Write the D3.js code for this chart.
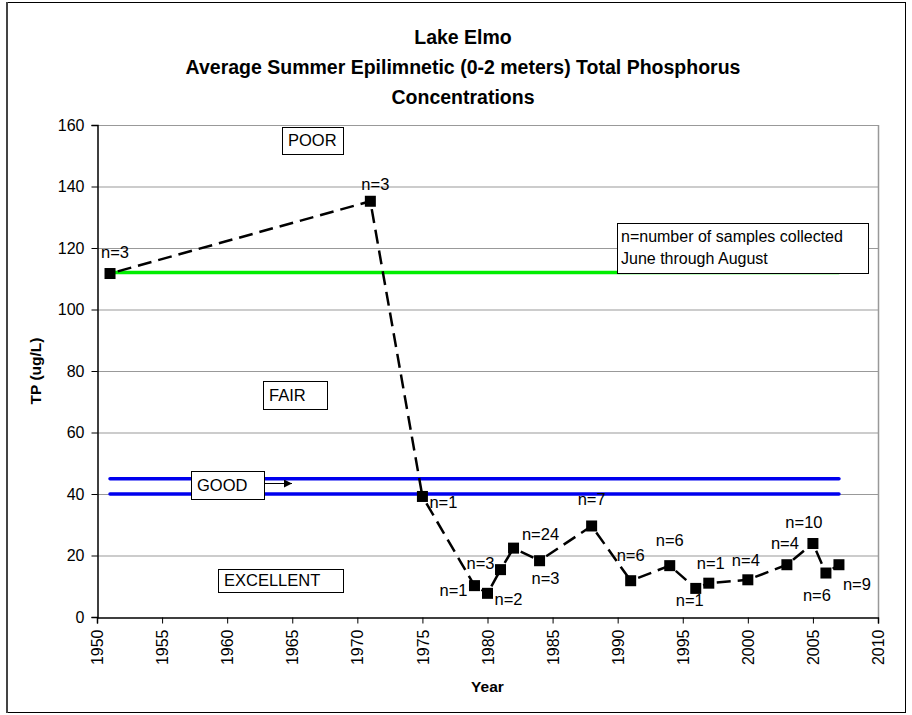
<!DOCTYPE html>
<html><head><meta charset="utf-8">
<script src="https://cdn.jsdelivr.net/npm/d3@7"></script>
<style>body{margin:0;background:#fff}svg{display:block;font-family:Arial,"Liberation Sans",sans-serif}</style>
</head><body>
<svg id="c" width="912" height="715"></svg>
<script>
// ---- data ----
const years  = [1951, 1971, 1975, 1979, 1980, 1981, 1982, 1984, 1988, 1991, 1994, 1996, 1997, 2000, 2003, 2005, 2006, 2007];
const tpValues = [111.7, 135.2, 39.2, 10.2, 7.7, 15.4, 22.4, 18.3, 29.6, 11.8, 16.7, 9.3, 11.0, 12.1, 17.0, 23.9, 14.3, 17.0];
const sampleLabels = ["n=3","n=3","n=1","n=1","n=2","n=3","n=24","n=3","n=7","n=6","n=6","n=1","n=1","n=4","n=4","n=10","n=6","n=9"];
const greenLimit = [112];
const blueLimits = [45, 40];
const limitYears = [1951, 2007];
const yTicks = [0, 20, 40, 60, 80, 100, 120, 140, 160];
const xTicks = [1950, 1955, 1960, 1965, 1970, 1975, 1980, 1985, 1990, 1995, 2000, 2005, 2010];
const titleLines = ["Lake Elmo", "Average Summer Epilimnetic (0-2 meters) Total Phosphorus", "Concentrations"];
const categoryLabels = ["POOR", "FAIR", "GOOD", "EXCELLENT"];
const noteLines = ["n=number of samples collected", "June through August"];

// ---- layout (pixel offsets of n= labels relative to their marker) ----
const labelOffsets = [[5,-21],[5,-17],[21,6],[-21,4],[21,6],[-20,-7],[27,-14],[6,17],[0,-27],[0,-26],[0,-26],[-6,12],[2,-20],[-2,-20],[-2,-22],[-9,-21],[-9,22],[18,19]];

const svg = d3.select("#c");
const m = {l:97, r:878, t:125, b:617};
const x = d3.scaleLinear().domain([1950, 2010]).range([m.l, m.r]);
const y = d3.scaleLinear().domain([0, 160]).range([m.b, m.t]);

// outer border
svg.append("rect").attr("x",7.5).attr("y",2.5).attr("width",898).attr("height",710)
  .attr("fill","#fff").attr("stroke","#000").attr("stroke-width",1);
svg.append("line").attr("x1",7).attr("x2",7).attr("y1",2).attr("y2",713).attr("stroke","#444").attr("stroke-width",2);

// title
svg.append("g").selectAll("text").data(titleLines).join("text")
  .attr("x",463).attr("y",(d,i)=>44+i*30).attr("text-anchor","middle")
  .attr("font-weight","bold").attr("font-size",19.5).text(d=>d);

// gridlines
svg.append("g").selectAll("line").data(yTicks.filter(d=>d>0)).join("line")
  .attr("x1",m.l).attr("x2",m.r).attr("y1",d=>y(d)+0.5).attr("y2",d=>y(d)+0.5)
  .attr("stroke","#999").attr("stroke-width",1);
svg.append("line").attr("x1",m.r+0.5).attr("x2",m.r+0.5).attr("y1",m.t).attr("y2",m.b)
  .attr("stroke","#999").attr("stroke-width",1.5);

// axes
const yAxis = d3.axisLeft(y).tickValues(yTicks).tickSize(6).tickPadding(7);
const gy = svg.append("g").attr("transform",`translate(${m.l+0.5},0)`).call(yAxis);
gy.selectAll("text").attr("font-size",16).attr("font-family","Arial, 'Liberation Sans', sans-serif").attr("fill","#000");
const xAxis = d3.axisBottom(x).tickValues(xTicks).tickFormat(d3.format("d")).tickSize(6);
const gx = svg.append("g").attr("transform",`translate(0,${m.b+0.5})`).call(xAxis);
gx.selectAll("text").attr("font-size",16).attr("font-family","Arial, 'Liberation Sans', sans-serif").attr("fill","#000")
  .attr("transform","rotate(-90)").attr("text-anchor","end").attr("x",-12).attr("y",0).attr("dy","0.35em");
[gx, gy].forEach(g=>{g.select(".domain").attr("stroke","#000").attr("stroke-width",1.5); g.selectAll(".tick line").attr("stroke","#000");});

// axis titles
svg.append("text").attr("transform",`translate(41,${(m.t+m.b)/2}) rotate(-90)`).attr("text-anchor","middle")
  .attr("font-weight","bold").attr("font-size",15.5).text("TP (ug/L)");
svg.append("text").attr("x",(m.l+m.r)/2).attr("y",692).attr("text-anchor","middle")
  .attr("font-weight","bold").attr("font-size",15.5).text("Year");

// limit lines
svg.append("g").selectAll("line").data(greenLimit).join("line")
  .attr("x1",x(limitYears[0])).attr("x2",x(limitYears[1])).attr("y1",d=>y(d)).attr("y2",d=>y(d))
  .attr("stroke","#00ee00").attr("stroke-width",3.5).attr("stroke-linecap","round");
svg.append("g").selectAll("line").data(blueLimits).join("line")
  .attr("x1",x(limitYears[0])).attr("x2",x(limitYears[1])).attr("y1",d=>y(d)).attr("y2",d=>y(d))
  .attr("stroke","#0000ee").attr("stroke-width",3.5).attr("stroke-linecap","round");

// category boxes
const boxes = [
  {t:categoryLabels[0], x:282, y:127, w:61, h:27},
  {t:categoryLabels[1], x:263, y:381, w:64, h:28},
  {t:categoryLabels[2], x:191, y:471, w:73, h:28},
  {t:categoryLabels[3], x:218, y:569, w:125, h:23}
];
const bg = svg.append("g").selectAll("g").data(boxes).join("g");
bg.append("rect").attr("x",d=>d.x+0.5).attr("y",d=>d.y+0.5).attr("width",d=>d.w).attr("height",d=>d.h)
  .attr("fill","#fff").attr("stroke","#000").attr("stroke-width",1);
bg.append("text").attr("x",d=>d.x+6).attr("y",d=>d.y+d.h/2).attr("dy","0.36em").attr("font-size",16.5).text(d=>d.t);

// arrow
svg.append("defs").append("marker").attr("id","ah").attr("viewBox","0 0 10 10").attr("refX",10).attr("refY",5)
  .attr("markerWidth",8).attr("markerHeight",8).attr("markerUnits","userSpaceOnUse").attr("orient","auto")
  .append("path").attr("d","M0,0L10,5L0,10z").attr("fill","#000");
svg.append("line").attr("x1",264).attr("x2",292).attr("y1",483.5).attr("y2",483.5)
  .attr("stroke","#000").attr("stroke-width",1).attr("marker-end","url(#ah)");

// note box
svg.append("rect").attr("x",617.5).attr("y",223.5).attr("width",251).attr("height",50)
  .attr("fill","#fff").attr("stroke","#000").attr("stroke-width",1);
svg.append("g").selectAll("text").data(noteLines).join("text")
  .attr("x",621).attr("y",(d,i)=>242+i*22).attr("font-size",16).text(d=>d);

// data series: dashed segments
const pts = years.map((yr,i)=>({yr, v:tpValues[i], lab:sampleLabels[i], off:labelOffsets[i]}));
const segs = d3.pairs(pts);
svg.append("g").selectAll("line").data(segs).join("line")
  .attr("x1",d=>x(d[0].yr)).attr("y1",d=>y(d[0].v)).attr("x2",d=>x(d[1].yr)).attr("y2",d=>y(d[1].v))
  .attr("stroke","#000").attr("stroke-width",2.5).attr("stroke-dasharray","14,7").attr("stroke-dashoffset",-8);
svg.append("g").selectAll("rect").data(pts).join("rect")
  .attr("x",d=>x(d.yr)-5.5).attr("y",d=>y(d.v)-5.5).attr("width",11).attr("height",11).attr("fill","#000");
svg.append("g").selectAll("text").data(pts).join("text")
  .attr("x",d=>x(d.yr)+d.off[0]).attr("y",d=>y(d.v)+d.off[1]).attr("dy","0.36em").attr("text-anchor","middle")
  .attr("font-size",16.5).text(d=>d.lab);
</script>
</body></html>
